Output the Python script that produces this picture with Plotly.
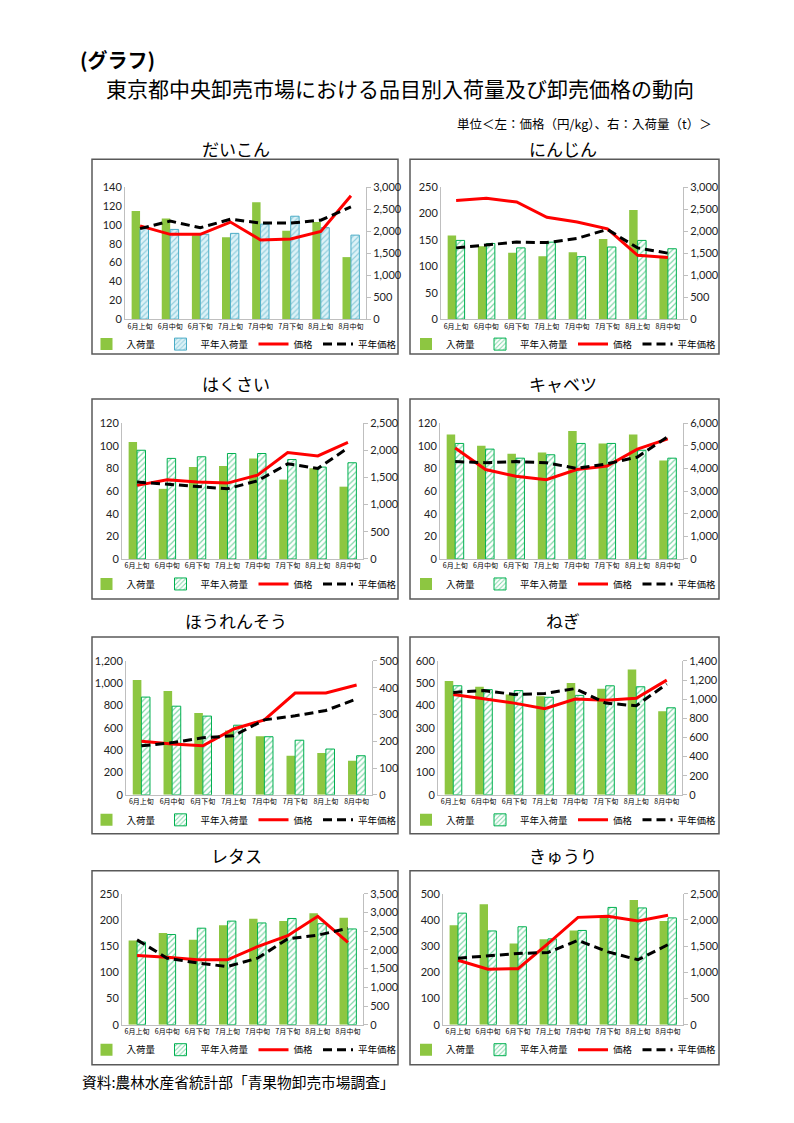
import plotly.graph_objects as go

W, H = 794, 1123

categories = ["6月上旬", "6月中旬", "6月下旬", "7月上旬", "7月中旬", "7月下旬", "8月上旬", "8月中旬"]
series_names = ["入荷量", "平年入荷量", "価格", "平年価格"]

# だいこん
daikon_arrivals = [2460, 2290, 1910, 1860, 2660, 2010, 2210, 1410]
daikon_avg_arrivals = [2060, 2040, 1930, 1950, 2160, 2340, 2080, 1910]
daikon_price = [99, 90, 90, 103, 84, 85, 93, 131]
daikon_avg_price = [96, 104, 97, 106, 102, 102, 105, 119]

# にんじん
ninjin_arrivals = [1900, 1660, 1510, 1430, 1520, 1820, 2480, 1440]
ninjin_avg_arrivals = [1790, 1720, 1620, 1750, 1420, 1640, 1790, 1600]
ninjin_price = [225, 229, 222, 193, 184, 171, 121, 117]
ninjin_avg_price = [135, 140, 146, 145, 153, 170, 135, 125]

# はくさい
hakusai_arrivals = [2150, 1290, 1690, 1710, 1850, 1460, 1670, 1330]
hakusai_avg_arrivals = [2000, 1850, 1880, 1940, 1940, 1830, 1690, 1770]
hakusai_price = [65, 70, 68, 67, 74, 94, 91, 103]
hakusai_avg_price = [68, 66, 64, 62, 69, 84, 80, 98]

# キャベツ
cabbage_arrivals = [5500, 5000, 4650, 4700, 5650, 5100, 5500, 4350]
cabbage_avg_arrivals = [5100, 4850, 4450, 4600, 5100, 5100, 4800, 4450]
cabbage_price = [98, 79, 73, 70, 79, 82, 97, 106]
cabbage_avg_price = [86, 85, 86, 85, 80, 84, 90, 108]

# ほうれんそう
spinach_arrivals = [429, 388, 306, 240, 219, 146, 156, 127]
spinach_avg_arrivals = [365, 331, 294, 260, 217, 204, 171, 146]
spinach_price = [480, 456, 440, 590, 672, 912, 912, 984]
spinach_avg_price = [439, 468, 511, 530, 672, 708, 756, 859]

# ねぎ
negi_arrivals = [1190, 1130, 1050, 1030, 1170, 1110, 1310, 875]
negi_avg_arrivals = [1140, 1100, 1090, 1020, 1040, 1140, 1130, 910]
negi_price = [450, 429, 411, 386, 429, 424, 433, 514]
negi_avg_price = [459, 467, 450, 454, 476, 411, 399, 497]

# レタス
lettuce_arrivals = [2250, 2450, 2270, 2660, 2830, 2770, 2980, 2860]
lettuce_avg_arrivals = [2210, 2410, 2580, 2770, 2720, 2840, 2700, 2560]
lettuce_price = [132, 129, 124, 124, 149, 170, 207, 157]
lettuce_avg_price = [162, 127, 118, 111, 127, 164, 171, 184]

# きゅうり
cucumber_arrivals = [1900, 2300, 1550, 1630, 1800, 2050, 2380, 1980]
cucumber_avg_arrivals = [2130, 1790, 1870, 1640, 1800, 2240, 2230, 2040]
cucumber_price = [246, 212, 214, 310, 410, 414, 396, 418]
cucumber_avg_price = [254, 264, 272, 276, 322, 278, 248, 306]

panel_titles = ["だいこん", "にんじん", "はくさい", "キャベツ", "ほうれんそう", "ねぎ", "レタス", "きゅうり"]
panel_data = [
    (daikon_arrivals, daikon_avg_arrivals, daikon_price, daikon_avg_price),
    (ninjin_arrivals, ninjin_avg_arrivals, ninjin_price, ninjin_avg_price),
    (hakusai_arrivals, hakusai_avg_arrivals, hakusai_price, hakusai_avg_price),
    (cabbage_arrivals, cabbage_avg_arrivals, cabbage_price, cabbage_avg_price),
    (spinach_arrivals, spinach_avg_arrivals, spinach_price, spinach_avg_price),
    (negi_arrivals, negi_avg_arrivals, negi_price, negi_avg_price),
    (lettuce_arrivals, lettuce_avg_arrivals, lettuce_price, lettuce_avg_price),
    (cucumber_arrivals, cucumber_avg_arrivals, cucumber_price, cucumber_avg_price),
]
# axis ticks: (left max, left step, right max, right step)
axis_ticks = [
    (140, 20, 3000, 500),
    (250, 50, 3000, 500),
    (120, 20, 2500, 500),
    (120, 20, 6000, 1000),
    (1200, 200, 500, 100),
    (600, 100, 1400, 200),
    (250, 50, 3500, 500),
    (500, 100, 2500, 500),
]

# layout geometry (target pixels in the final picture)
col_box = [(92, 398), (410, 719)]
row_box = [(158, 353), (398, 598), (636, 833), (870, 1064)]
row_plot = [(186, 318), (422, 558), (660, 794), (893, 1024)]
plot_x = [(125, 366), (441, 683), (122, 363), (440, 683), (126, 372), (438, 682), (122, 363), (443, 683)]
title_y = [147, 382, 620, 855]
title_x = [236, 563]

FONT_JP = "Noto Sans CJK JP"
FONT_NUM = "Lato, Noto Sans CJK JP"
GREEN = "#8DC641"
AXIS_GRAY = "#BFBFBF"

# page offset compensation (observed rendering offset)
OFF_X, OFF_Y, SCALE_Y = 8.0, 13.7, 0.989


def fx(x):
    return (x - OFF_X) / W


def fy(y):
    return 1 - ((y - OFF_Y) / SCALE_Y) / H


fig = go.Figure()
layout = dict(
    width=W, height=H,
    margin=dict(l=0, r=0, t=0, b=0),
    paper_bgcolor="white", plot_bgcolor="rgba(0,0,0,0)",
    barmode="group", bargap=0.44, bargroupgap=0.0,
    font=dict(family=FONT_JP, color="#000000"),
    showlegend=True,
)
shapes = []
annotations = []

for i in range(8):
    r, c = divmod(i, 2)
    arr, avg_arr, price, avg_price = panel_data[i]
    lmax, lstep, rmax, rstep = axis_ticks[i]
    xl, xr = plot_x[i]
    yt, yb = row_plot[r]
    bx0, bx1 = col_box[c]
    by0, by1 = row_box[r]

    xn = i + 1
    yb_n = 2 * i + 1   # bars axis (right)
    yl_n = 2 * i + 2   # lines axis (left)
    xname = "x" if xn == 1 else f"x{xn}"
    ybname = "y" if yb_n == 1 else f"y{yb_n}"
    ylname = f"y{yl_n}"
    lg = "legend" if i == 0 else f"legend{i + 1}"

    if i == 0:
        pat_fg, pat_bg, pat_line = "#4BACC6", "#DDF2F7", "#4BACC6"
    else:
        pat_fg, pat_bg, pat_line = "#00B050", "#FFFFFF", "#00B050"

    fig.add_trace(go.Bar(
        x=categories, y=arr, name=series_names[0], xaxis=xname, yaxis=ybname,
        marker=dict(color=GREEN, line=dict(width=0)), legend=lg,
    ))
    fig.add_trace(go.Bar(
        x=categories, y=avg_arr, name=series_names[1], xaxis=xname, yaxis=ybname,
        marker=dict(color=pat_bg, line=dict(color=pat_line, width=1),
                    pattern=dict(shape="/", fgcolor=pat_fg, bgcolor=pat_bg, size=4, solidity=0.3)),
        legend=lg,
    ))
    fig.add_trace(go.Scatter(
        x=categories, y=price, name=series_names[2], xaxis=xname, yaxis=ylname,
        mode="lines", line=dict(color="#FF0000", width=3), legend=lg,
    ))
    fig.add_trace(go.Scatter(
        x=categories, y=avg_price, name=series_names[3], xaxis=xname, yaxis=ylname,
        mode="lines", line=dict(color="#000000", width=3, dash="9px,5px"), legend=lg,
    ))

    xkey = "xaxis" if xn == 1 else f"xaxis{xn}"
    ybkey = "yaxis" if yb_n == 1 else f"yaxis{yb_n}"
    ylkey = f"yaxis{yl_n}"

    layout[xkey] = dict(
        domain=[fx(xl), fx(xr)], anchor=ybname, type="category",
        range=[-0.5, 7.5], showline=True, linecolor=AXIS_GRAY, linewidth=1,
        showgrid=False, ticks="", tickfont=dict(size=7, family=FONT_JP),
        fixedrange=True,
    )
    layout[ybkey] = dict(
        domain=[fy(yb), fy(yt)], anchor=xname, side="right",
        range=[0, rmax], dtick=rstep, tick0=0, tickformat=",d",
        showline=True, linecolor=AXIS_GRAY, linewidth=1,
        ticks="outside", ticklen=4, tickcolor=AXIS_GRAY,
        showgrid=False, zeroline=False,
        tickfont=dict(size=11, family=FONT_NUM, color="#222222"),
    )
    layout[ylkey] = dict(
        overlaying=ybname, anchor=xname, side="left",
        range=[0, lmax], dtick=lstep, tick0=0, tickformat=",d",
        showline=True, linecolor=AXIS_GRAY, linewidth=1,
        ticks="", showgrid=False, zeroline=False,
        tickfont=dict(size=11, family=FONT_NUM, color="#222222"),
    )
    layout[lg] = dict(
        orientation="h", x=fx((bx0 + bx1) / 2 - 1), y=fy(yb + 25),
        xanchor="center", yanchor="middle",
        font=dict(size=9.5, family=FONT_JP), itemwidth=30,
        bgcolor="rgba(0,0,0,0)", tracegroupgap=0, traceorder="normal",
    )

    shapes.append(dict(
        type="rect", xref="paper", yref="paper",
        x0=fx(bx0), x1=fx(bx1), y0=fy(by1), y1=fy(by0),
        line=dict(color="#595959", width=1.5), fillcolor="rgba(0,0,0,0)", layer="below",
    ))
    annotations.append(dict(
        text=panel_titles[i], xref="paper", yref="paper",
        x=fx(title_x[c]), y=fy(title_y[r]), xanchor="center", yanchor="middle",
        showarrow=False, font=dict(size=17, family=FONT_JP),
    ))

annotations.append(dict(
    text="<b>(グラフ)</b>", xref="paper", yref="paper", x=fx(78), y=fy(58),
    xanchor="left", yanchor="middle", showarrow=False, font=dict(size=20, family=FONT_JP),
))
annotations.append(dict(
    text="東京都中央卸売市場における品目別入荷量及び卸売価格の動向", xref="paper", yref="paper",
    x=fx(400), y=fy(87), xanchor="center", yanchor="middle", showarrow=False,
    font=dict(size=21, family=FONT_JP),
))
annotations.append(dict(
    text="単位＜左：価格（円/kg）、右：入荷量（t）＞", xref="paper", yref="paper",
    x=fx(714), y=fy(122), xanchor="right", yanchor="middle", showarrow=False,
    font=dict(size=12.5, family=FONT_JP),
))
annotations.append(dict(
    text="資料:農林水産省統計部「青果物卸売市場調査」", xref="paper", yref="paper",
    x=fx(80), y=fy(1081), xanchor="left", yanchor="middle", showarrow=False,
    font=dict(size=14.7, family=FONT_JP),
))

layout["shapes"] = shapes
layout["annotations"] = annotations
fig.update_layout(**layout)

fig.write_html("out.html")
